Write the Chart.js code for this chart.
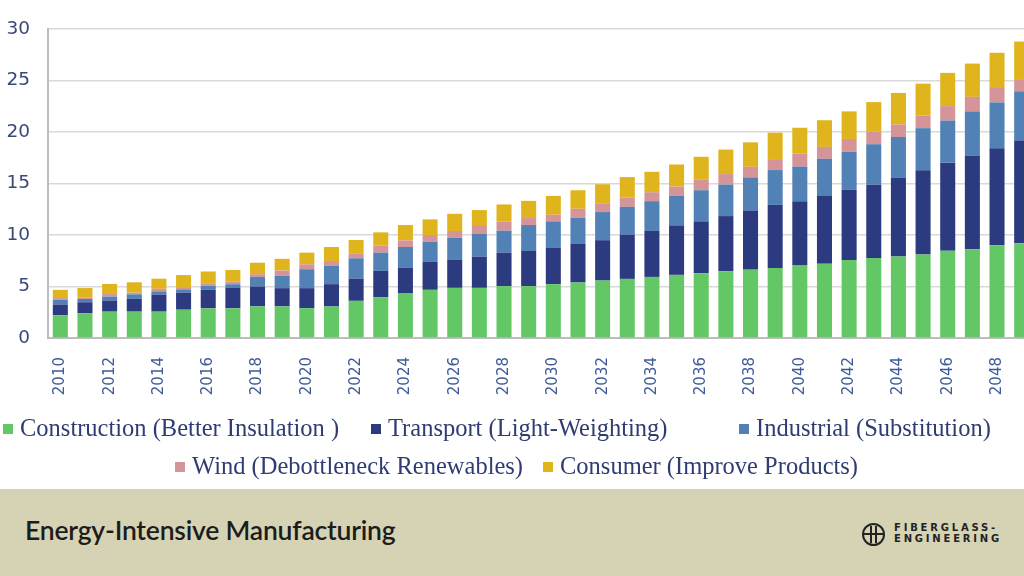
<!DOCTYPE html>
<html>
<head>
<meta charset="utf-8">
<script src="https://cdn.jsdelivr.net/npm/chart.js@4.4.1/dist/chart.umd.min.js"></script>
<style>
  html, body { margin: 0; padding: 0; width: 1024px; height: 576px; overflow: hidden; background: #ffffff; }
  #wrap { position: absolute; left: 0; top: 0; width: 1034px; height: 489px; }
  #banner { position: absolute; left: 0; top: 489px; width: 1024px; height: 87px; background: #d6d3b5; }
  #title { position: absolute; left: 25px; top: 25px; font-family: Lato, "Open Sans", sans-serif; font-size: 26.5px; font-weight: 600; color: #1c1c1c; letter-spacing: -0.2px; line-height: 32px; }
  #logo { position: absolute; left: 862px; top: 34px; }
  #logoMark { position: absolute; left: 0; top: 0; width: 19px; height: 19px; border: 2px solid #222; border-radius: 50%; }
  #logoMark:before { content: ""; position: absolute; left: 6px; top: 1px; width: 2px; height: 17px; background: #222; }
  #logoMark:after { content: ""; position: absolute; left: 11px; top: 1px; width: 2px; height: 17px; background: #222; }
  #logoBar { position: absolute; left: 2px; top: 10px; width: 19px; height: 2px; background: #222; }
  #logoText { position: absolute; left: 32px; top: 0px; font-family: "DejaVu Sans", sans-serif; font-weight: bold; font-size: 10px; line-height: 10.5px; letter-spacing: 2.8px; color: #222; white-space: nowrap; }
</style>
</head>
<body>
<div id="wrap"><canvas id="c" width="1034" height="489"></canvas></div>
<div id="banner">
  <div id="title">Energy-Intensive Manufacturing</div>
  <div id="logo"><div id="logoMark"></div><div id="logoBar"></div><div id="logoText">FIBERGLASS-<br>ENGINEERING</div></div>
</div>
<script>
const categories = ["2010","2011","2012","2013","2014","2015","2016","2017","2018","2019",
  "2020","2021","2022","2023","2024","2025","2026","2027","2028","2029",
  "2030","2031","2032","2033","2034","2035","2036","2037","2038","2039",
  "2040","2041","2042","2043","2044","2045","2046","2047","2048","2049"];

const seriesNames = ["Construction (Better Insulation )", "Transport (Light-Weighting)",
  "Industrial (Substitution)", "Wind (Debottleneck Renewables)", "Consumer (Improve Products)"];

const construction = [2.2,2.4,2.56,2.56,2.56,2.75,2.88,2.88,3.07,3.07,
  2.9,3.06,3.61,3.97,4.32,4.68,4.87,4.87,5.03,5.03,
  5.23,5.39,5.58,5.74,5.93,6.13,6.29,6.48,6.64,6.8,
  7.03,7.22,7.57,7.76,7.92,8.12,8.47,8.63,9.01,9.2];

const transport = [1.05,1.07,1.08,1.24,1.65,1.65,1.8,2.02,1.93,1.77,
  1.94,2.17,2.16,2.55,2.52,2.71,2.71,3.03,3.26,3.42,
  3.56,3.79,3.92,4.3,4.47,4.81,5.04,5.36,5.75,6.13,
  6.26,6.61,6.81,7.13,7.67,8.17,8.56,9.1,9.42,9.97];

const industrial = [0.47,0.32,0.38,0.44,0.32,0.32,0.38,0.32,0.92,1.2,
  1.84,1.8,1.97,1.77,2.0,1.96,2.16,2.2,2.13,2.52,
  2.54,2.5,2.73,2.7,2.89,2.86,3.02,3.06,3.21,3.38,
  3.36,3.58,3.7,3.93,3.93,4.09,4.09,4.28,4.45,4.79];

const wind = [0.16,0.16,0.25,0.16,0.25,0.22,0.26,0.25,0.28,0.51,
  0.48,0.45,0.49,0.68,0.64,0.65,0.65,0.87,0.87,0.68,
  0.64,0.87,0.8,0.9,0.87,0.9,1.02,1.02,1.03,1.06,
  1.27,1.15,1.25,1.24,1.21,1.22,1.4,1.41,1.4,1.18];

const consumer = [0.8,0.9,0.98,1.01,0.98,1.17,1.14,1.14,1.11,1.14,
  1.13,1.36,1.29,1.29,1.49,1.52,1.67,1.45,1.68,1.67,
  1.83,1.8,1.9,1.99,1.98,2.15,2.23,2.38,2.37,2.57,
  2.5,2.59,2.68,2.85,3.07,3.1,3.23,3.23,3.42,3.65];

const xTickLabels = categories.map((c, i) => (i % 2 === 0 ? c : ""));
const yTicks = [0, 5, 10, 15, 20, 25, 30];

const colors = ["#63c765", "#2c3a80", "#5181b5", "#d59598", "#e0b41c"];
const seriesValues = [construction, transport, industrial, wind, consumer];

const legendSlots = [[3, 429], [371, 429], [739, 429], [175, 467], [543, 467]];

const gridLegend = {
  id: "gridLegend",
  afterDraw(chart) {
    const ctx = chart.ctx;
    ctx.save();
    ctx.font = '24.5px "Liberation Serif", "DejaVu Serif", serif';
    ctx.textBaseline = "middle";
    ctx.textAlign = "left";
    chart.data.datasets.forEach((ds, i) => {
      const [x, y] = legendSlots[i];
      ctx.fillStyle = ds.backgroundColor;
      ctx.fillRect(x, y - 5, 10, 10);
      ctx.fillStyle = "#2f3c73";
      ctx.fillText(ds.label, x + 17, y + 1);
    });
    ctx.restore();
  }
};

new Chart(document.getElementById("c"), {
  type: "bar",
  data: {
    labels: categories,
    datasets: seriesNames.map((name, i) => ({
      label: name,
      data: seriesValues[i],
      backgroundColor: colors[i],
      borderWidth: 0,
      barPercentage: 0.61,
      categoryPercentage: 1.0
    }))
  },
  options: {
    responsive: false,
    animation: false,
    devicePixelRatio: 1,
    layout: { padding: { top: 25, right: 0, bottom: 0, left: 0 } },
    plugins: { legend: { display: false }, tooltip: { enabled: false } },
    scales: {
      x: {
        stacked: true,
        grid: { display: false, drawTicks: false },
        border: { display: true, color: "#bdbdbd", width: 2 },
        ticks: {
          autoSkip: false,
          minRotation: 90,
          maxRotation: 90,
          padding: 19,
          color: "#3e5b98",
          font: { family: "DejaVu Sans", size: 15 },
          callback: (v, i) => xTickLabels[i]
        },
        afterFit: (s) => { s.height = 151; s.paddingRight = 0; s.paddingLeft = 0; }
      },
      y: {
        stacked: true,
        min: 0,
        max: 30,
        afterBuildTicks: (s) => { s.ticks = yTicks.map(v => ({ value: v })); },
        grid: { color: "#d9d9d9", lineWidth: 1.5, drawTicks: false },
        border: { display: true, color: "#bdbdbd", width: 2 },
        ticks: {
          padding: 18,
          color: "#3a4878",
          font: { family: "DejaVu Sans", size: 18.5 }
        },
        afterFit: (s) => { s.width = 48; }
      }
    }
  },
  plugins: [gridLegend]
});
</script>
</body>
</html>
